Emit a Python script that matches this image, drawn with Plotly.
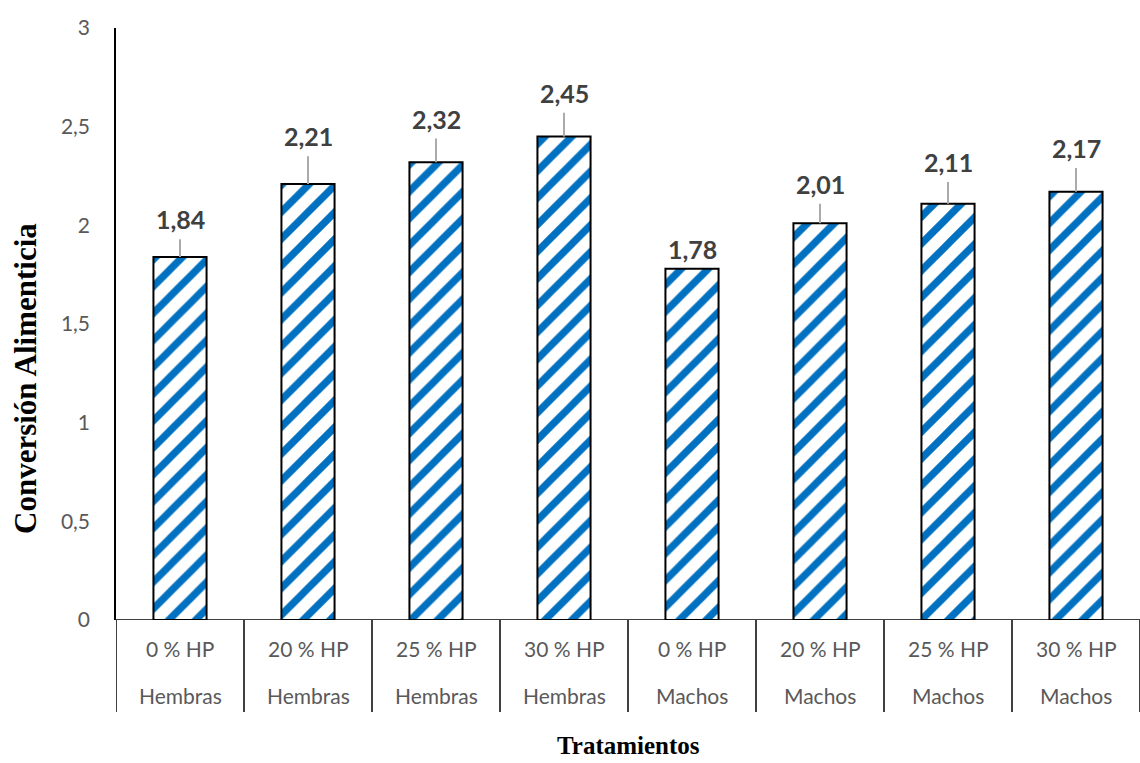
import plotly.graph_objects as go

treatments = ["0 % HP", "20 % HP", "25 % HP", "30 % HP", "0 % HP", "20 % HP", "25 % HP", "30 % HP"]
sexes = ["Hembras", "Hembras", "Hembras", "Hembras", "Machos", "Machos", "Machos", "Machos"]
values = [1.84, 2.21, 2.32, 2.45, 1.78, 2.01, 2.11, 2.17]
errors = [0.09, 0.14, 0.12, 0.12, 0.0, 0.10, 0.11, 0.12]
value_labels = ["1,84", "2,21", "2,32", "2,45", "1,78", "2,01", "2,11", "2,17"]
ytick_vals = [0, 0.5, 1, 1.5, 2, 2.5, 3]
ytick_text = ["0", "0,5", "1", "1,5", "2", "2,5", "3"]

W, H = 1140, 763
L, R, T, B = 116, 0, 28, 143
ph = H - T - B

x = list(range(len(values)))

fig = go.Figure()
fig.add_trace(go.Bar(
    x=x, y=values, width=0.415,
    marker=dict(
        color="white",
        line=dict(color="black", width=2),
        pattern=dict(shape="/", fgcolor="#0070C0", bgcolor="white", size=19, solidity=0.38, fillmode="replace"),
    ),
    error_y=dict(type="data", array=errors, arrayminus=[0] * len(errors), symmetric=False,
                 color="#ABABAB", thickness=2, width=0),
    hoverinfo="skip",
))

sans = "Lato, Open Sans, sans-serif"
serif = "Liberation Serif, Times New Roman, serif"

annotations = []
for i, (v, e, lab) in enumerate(zip(values, errors, value_labels)):
    annotations.append(dict(x=i, y=v + e, xref="x", yref="y", text="<b>%s</b>" % lab,
                            showarrow=False, yanchor="bottom", yshift=3,
                            font=dict(family=sans, size=25, color="#404040")))
for i, (t, s) in enumerate(zip(treatments, sexes)):
    annotations.append(dict(x=i, y=-28 / ph, xref="x", yref="paper", text=t, showarrow=False,
                            yanchor="middle", font=dict(family=sans, size=21, color="#595959")))
    annotations.append(dict(x=i, y=-75 / ph, xref="x", yref="paper", text=s, showarrow=False,
                            yanchor="middle", font=dict(family=sans, size=21, color="#595959")))

annotations.append(dict(x=(628 - L) / (W - L - R), y=-125 / ph, xref="paper", yref="paper",
                        text="<b>Tratamientos</b>", showarrow=False, yanchor="middle", xanchor="center",
                        font=dict(family=serif, size=25, color="black")))
annotations.append(dict(x=(25 - L) / (W - L - R), y=(H - B - 379) / ph, xref="paper", yref="paper",
                        text="<b>Conversión Alimenticia</b>", showarrow=False, textangle=-90,
                        yanchor="middle", xanchor="center",
                        font=dict(family=serif, size=31, color="black")))

shapes = []
for i in range(len(values) + 1):
    shapes.append(dict(type="line", xref="x", yref="paper", x0=i - 0.5, x1=i - 0.5,
                       y0=0, y1=-92 / ph, line=dict(color="black", width=1.5)))
shapes.append(dict(type="line", xref="paper", yref="y", x0=0, x1=1, y0=0, y1=0,
                   line=dict(color="black", width=1.5)))

fig.update_layout(
    width=W, height=H,
    margin=dict(l=L, r=R, t=T, b=B),
    plot_bgcolor="white", paper_bgcolor="white",
    showlegend=False,
    annotations=annotations,
    shapes=shapes,
    xaxis=dict(range=[-0.5, len(values) - 0.5], showticklabels=False, showgrid=False,
               zeroline=False, showline=False, ticks=""),
    yaxis=dict(range=[0, 3], tickvals=ytick_vals, ticktext=ytick_text, showgrid=False,
               zeroline=False, showline=True, linecolor="black", linewidth=1.5, ticks="",
               ticklabelstandoff=20,
               tickfont=dict(family=sans, size=21, color="#595959")),
)

fig.write_html("out.html")
